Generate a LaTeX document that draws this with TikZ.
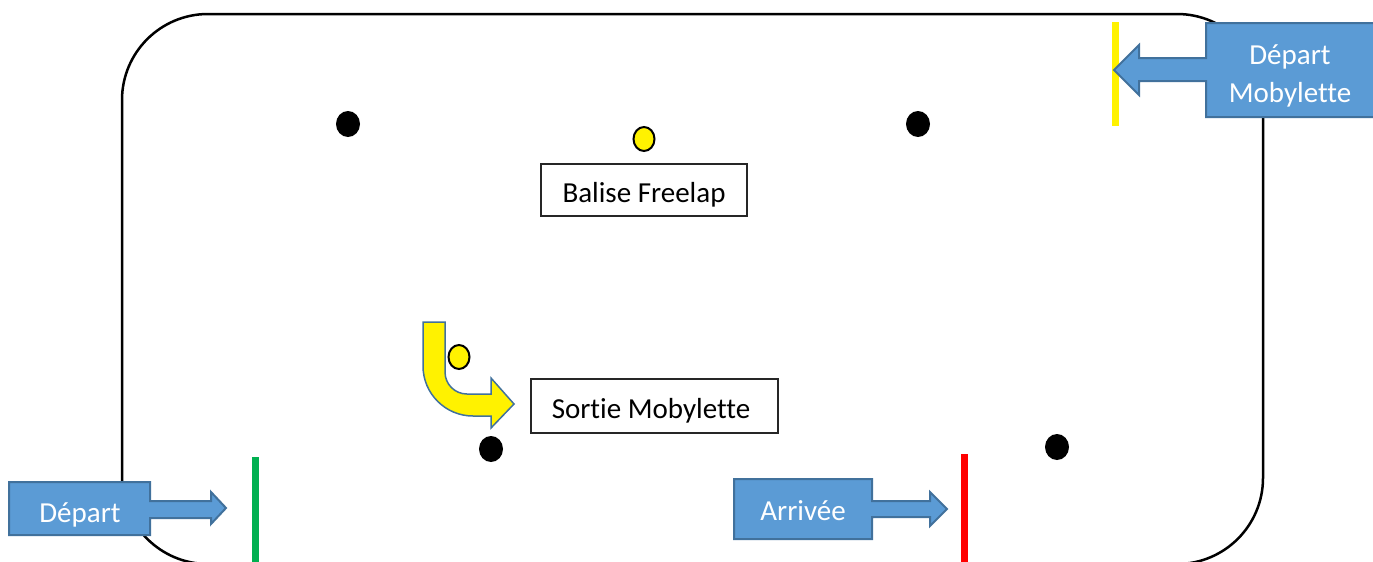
\documentclass[tikz,border=0pt]{standalone}
\usepackage{fontspec}
\setmainfont{Carlito}[Ligatures=NoCommon]
\usetikzlibrary{shapes.geometric}
\definecolor{cblue}{HTML}{5B9BD5}
\definecolor{cbord}{HTML}{41719C}
\definecolor{cgreen}{HTML}{00B050}
\begin{document}
\begin{tikzpicture}[x=1pt,y=-1pt,
  lab/.style={font=\fontsize{29}{35}\selectfont, inner sep=0pt, anchor=base},
  wlab/.style={lab,text=white},
  callout/.style={fill=cblue,draw=cbord,line width=2pt,line join=miter},
  tbox/.style={draw=black!85,line width=1.2pt,fill=white,inner sep=0pt},
  bdot/.style={ellipse,fill=black,minimum width=24pt,minimum height=26pt,inner sep=0pt},
  ydot/.style={ellipse,fill=yellow,draw=black,line width=2pt,minimum width=21pt,minimum height=24pt,inner sep=0pt},
  bar/.style={line width=7.5pt},
  bent/.style={fill=yellow,draw=cbord,line width=1.5pt,line join=miter}]
\useasboundingbox (0,0) rectangle (1373,562);
\clip (0,0) rectangle (1373,562);
% track
\draw[line width=2.5pt,rounded corners=86pt] (122,14) rectangle (1263,564);
% cones
\node[bdot] (c1) at (348,124) {};
\node[bdot] (c2) at (918,124) {};
\node[bdot] (c3) at (491,449) {};
\node[bdot] (c4) at (1057,447) {};
% freelap beacons
\node[ydot] (y1) at (644,139) {};
\node[ydot] (y2) at (459,357) {};
% text boxes
\node[tbox,minimum width=206pt,minimum height=52pt] (balise) at (644,190) {};
\node[lab] (balisetxt) at (644,202) {Balise Freelap};
\node[tbox,minimum width=247pt,minimum height=54pt] (sortie) at (654.5,406) {};
\node[lab] (sortietxt) at (651,418) {Sortie Mobylette};
% bent arrow
\draw[bent] (423,322) -- (445,322) -- (445,372)
  .. controls (445,384.2) and (454.8,394) .. (467,394)
  -- (491,394) -- (491,378) -- (514,404) -- (491,428) -- (491,416) -- (473,416)
  .. controls (445.4,416) and (423,393.6) .. (423,366) -- cycle;
% colored lines
\draw[bar,draw=yellow] (1115.5,22) -- (1115.5,126);
\draw[bar,draw=cgreen] (255.5,457) -- (255.5,565);
\draw[bar,draw=red] (964.5,454) -- (964.5,565);
% callouts
\draw[callout] (1380,23) -- (1206,23) -- (1206,58) -- (1139,58) -- (1139,45) -- (1114,70)
  -- (1139,95) -- (1139,81) -- (1206,81) -- (1206,117) -- (1380,117) -- cycle;
\node[wlab] (dm1) at (1290,64) {Départ};
\node[wlab] (dm2) at (1290,102) {Mobylette};
\draw[callout] (9,482) -- (150,482) -- (150,501) -- (211,501) -- (211,492) -- (226,508)
  -- (211,524) -- (211,518) -- (150,518) -- (150,535) -- (9,535) -- cycle;
\node[wlab] (dep) at (80,522) {Départ};
\draw[callout] (734,479) -- (872,479) -- (872,501) -- (930,501) -- (930,492) -- (947,509)
  -- (930,526) -- (930,517) -- (872,517) -- (872,539) -- (734,539) -- cycle;
\node[wlab] (arr) at (803,520) {Arrivée};
\end{tikzpicture}
\end{document}
